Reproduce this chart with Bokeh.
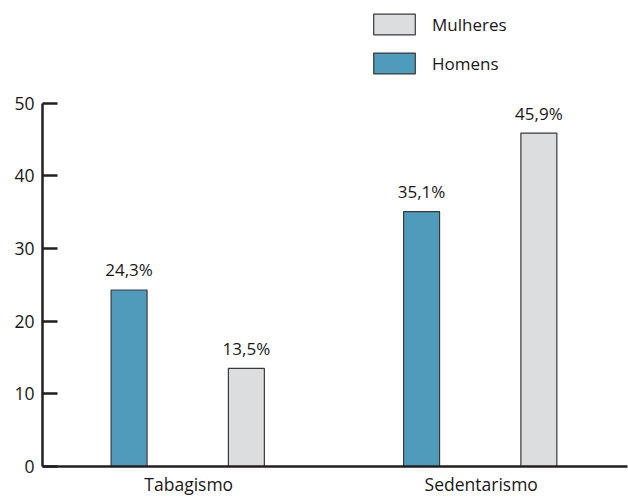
from bokeh.plotting import figure
from bokeh.models import ColumnDataSource, FixedTicker, Range1d, Legend, LegendItem
from bokeh.transform import dodge
from bokeh.core.properties import value
from bokeh.embed import file_html
from bokeh.resources import INLINE

categories = ["Tabagismo", "Sedentarismo"]
homens = [24.3, 35.1]
mulheres = [13.5, 45.9]
y_ticks = [0, 10, 20, 30, 40, 50]

FONT = "Open Sans"
BLUE = "#4f9bbb"
GRAY = "#dcdddf"
EDGE = "#3a3a3c"
AX = "#231f20"
TXT = "#1a1718"

def fmt(v):
    return f"{v:.1f}".replace(".", ",") + "%"

centers = [i + 0.5 for i in range(len(categories))]
src = ColumnDataSource(dict(
    x=centers,
    homens=homens,
    mulheres=mulheres,
    lh=[fmt(v) for v in homens],
    lm=[fmt(v) for v in mulheres],
))

p = figure(width=628, height=498, output_backend="svg", toolbar_location=None,
           x_range=Range1d(0, len(categories)), y_range=Range1d(0, 64.15),
           min_border_left=42, min_border_right=1, min_border_top=0, min_border_bottom=31)
p.outline_line_color = None
p.xgrid.visible = False
p.ygrid.visible = False

OFF_H = -0.204
OFF_M = 0.197
W = 0.123
rh = p.vbar(x=dodge("x", OFF_H, range=p.x_range), top="homens", width=W, source=src,
            fill_color=BLUE, line_color=EDGE, line_width=1.2)
rm = p.vbar(x=dodge("x", OFF_M, range=p.x_range), top="mulheres", width=W, source=src,
            fill_color=GRAY, line_color=EDGE, line_width=1.2)

for col, lab, off in (("homens", "lh", OFF_H), ("mulheres", "lm", OFF_M)):
    p.text(x=dodge("x", off, range=p.x_range), y=col, text=lab, source=src,
           text_align="center", text_baseline="alphabetic", y_offset=-20,
           text_font=value(FONT), text_font_size="17px", text_color=TXT)

# axes
p.yaxis.ticker = FixedTicker(ticks=y_ticks)
p.yaxis.bounds = (0, 50)
p.yaxis.major_tick_in = 15
p.yaxis.major_tick_out = 0
p.yaxis.minor_tick_line_color = None
p.yaxis.major_label_standoff = 8
p.xaxis.ticker = FixedTicker(ticks=centers, minor_ticks=[1, 2])
p.xaxis.major_label_overrides = {c: n for c, n in zip(centers, categories)}
p.xaxis.major_tick_in = 0
p.xaxis.major_tick_out = 0
p.xaxis.minor_tick_in = 8
p.xaxis.minor_tick_out = 0
p.xaxis.major_label_standoff = 5
for ax in (p.xaxis, p.yaxis):
    ax.axis_line_color = AX
    ax.axis_line_width = 2.5
    ax.major_tick_line_color = AX
    ax.major_tick_line_width = 2.5
    ax.minor_tick_line_color = AX if ax is p.xaxis else None
    ax.minor_tick_line_width = 2.5
    ax.major_label_text_font = FONT
    ax.major_label_text_font_size = "17.5px"
    ax.major_label_text_color = TXT

legend = Legend(items=[LegendItem(label="Mulheres", renderers=[rm]),
                       LegendItem(label="Homens", renderers=[rh])],
                location=(326, 390), padding=0, margin=0, spacing=13,
                glyph_width=52, glyph_height=26, label_standoff=12,
                label_text_font=FONT, label_text_font_size="17px",
                label_text_color=TXT,
                border_line_color=None, background_fill_alpha=0)
p.add_layout(legend)

open("out.html", "w").write(file_html(p, INLINE))
